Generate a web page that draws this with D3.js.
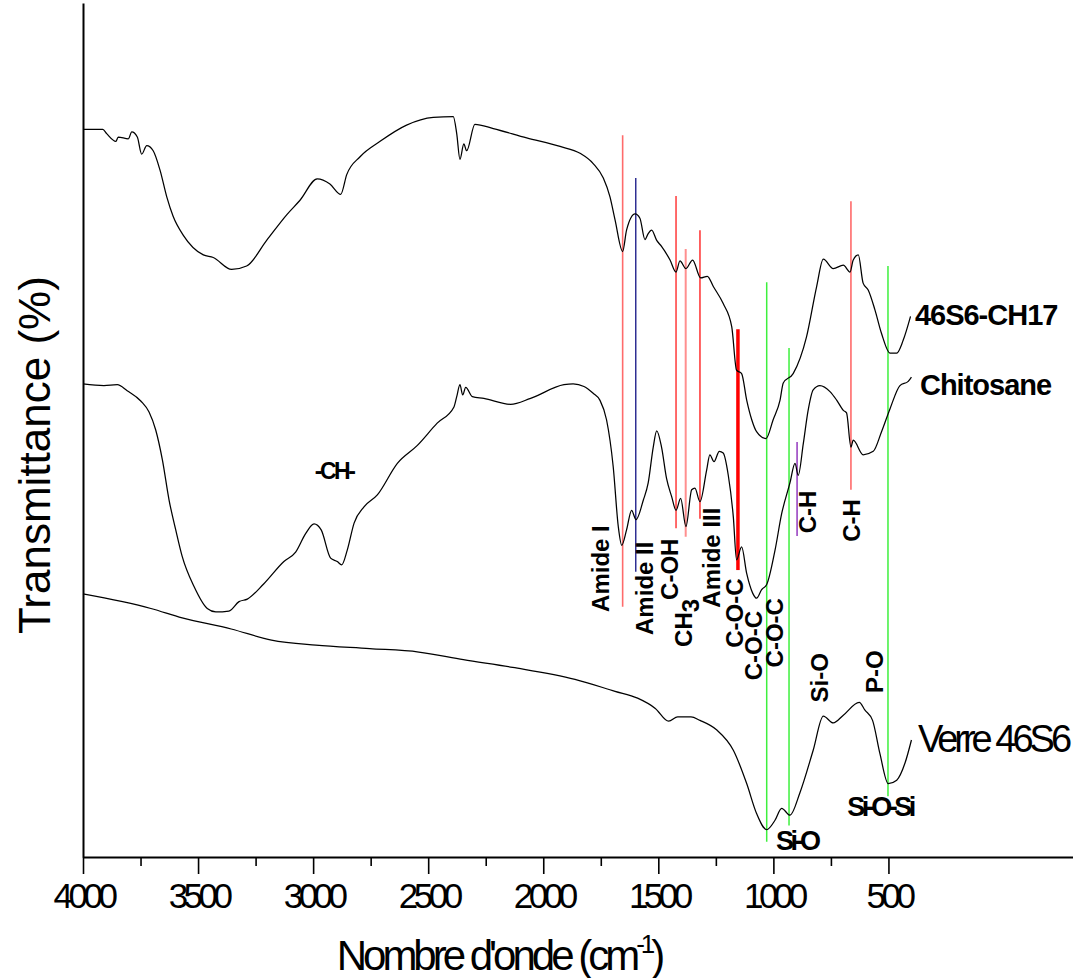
<!DOCTYPE html>
<html>
<head>
<meta charset="utf-8">
<script src="https://cdn.jsdelivr.net/npm/d3@7"></script>
<style>
  html, body { margin: 0; padding: 0; background: #fff; }
  svg { display: block; font-family: 'Liberation Sans', Arial, Helvetica, sans-serif; }
</style>
</head>
<body>
<div class="container"></div>
<script>
// spectra: [wavenumber (cm-1), transmittance (arb. %)]
const ch17 = [
  [4000, 85.2], [3914, 85.2], [3897, 84.7], [3857, 83.8], [3847, 84.3], [3803, 84.1], [3788, 84.9],
  [3764, 84.3], [3745, 82.3], [3723, 83.3], [3695, 82.7], [3665, 80.4], [3636, 77.3], [3608, 75.0],
  [3564, 72.8], [3477, 70.5], [3434, 70.2], [3354, 68.8], [3289, 69.2], [3202, 72.2], [3115, 75.2],
  [3057, 76.9], [2982, 79.4], [2927, 78.8], [2880, 77.6], [2854, 79.9], [2796, 82.0], [2709, 83.8],
  [2594, 85.7], [2478, 86.6], [2391, 86.7], [2376, 84.7], [2362, 81.7], [2345, 83.5], [2333, 82.7],
  [2297, 85.8], [2217, 85.3], [2072, 84.2], [1927, 83.2], [1840, 82.4], [1783, 81.2], [1739, 79.5],
  [1710, 77.3], [1688, 74.6], [1655, 70.9], [1638, 73.4], [1601, 75.3], [1580, 74.8], [1558, 72.3],
  [1544, 73.0], [1529, 73.4], [1507, 72.2], [1486, 71.5], [1449, 69.9], [1423, 68.5], [1406, 69.8],
  [1380, 68.9], [1351, 69.9], [1316, 67.8], [1287, 68.0], [1261, 66.8], [1218, 64.8], [1181, 62.1],
  [1160, 57.0], [1138, 56.6], [1116, 53.5], [1094, 51.2], [1073, 49.8], [1032, 49.0], [1001, 51.2],
  [971, 53.5], [957, 55.5], [914, 56.6], [856, 60.9], [812, 66.8], [783, 70.0], [740, 68.9],
  [696, 69.3], [667, 68.5], [653, 69.9], [631, 70.5], [610, 67.2], [588, 66.4], [559, 64.1],
  [530, 61.3], [493, 59.0], [464, 59.0], [436, 60.5], [404, 63.3]
];

const chitosane = [
  [4000, 55.4], [3909, 55.2], [3851, 55.3], [3808, 54.6], [3749, 53.4], [3713, 52.1], [3684, 50.0],
  [3655, 46.5], [3626, 41.8], [3597, 38.3], [3569, 35.2], [3518, 31.7], [3460, 29.1], [3423, 28.7],
  [3366, 28.8], [3322, 29.9], [3286, 30.2], [3214, 32.0], [3127, 34.6], [3076, 35.7], [3032, 37.9],
  [2996, 39.0], [2965, 38.3], [2924, 35.0], [2895, 34.6], [2876, 34.2], [2852, 35.9], [2822, 39.1],
  [2779, 41.0], [2721, 42.4], [2634, 46.1], [2547, 48.2], [2461, 50.8], [2388, 52.7], [2376, 53.9],
  [2362, 55.3], [2350, 54.1], [2337, 55.0], [2308, 53.9], [2258, 53.7], [2142, 53.0], [2055, 53.7],
  [1910, 55.3], [1870, 55.4], [1823, 55.1], [1783, 54.3], [1754, 53.5], [1725, 51.2], [1696, 45.7],
  [1674, 38.7], [1659, 36.5], [1638, 38.3], [1616, 40.6], [1597, 39.5], [1565, 41.8], [1544, 43.8],
  [1522, 48.0], [1507, 49.9], [1486, 48.0], [1464, 44.3], [1442, 42.2], [1423, 40.6], [1403, 42.0],
  [1380, 38.7], [1355, 43.0], [1341, 43.2], [1319, 41.6], [1290, 45.3], [1276, 47.1], [1258, 46.3],
  [1235, 47.5], [1218, 47.3], [1196, 44.7], [1174, 39.8], [1160, 34.8], [1138, 36.3], [1116, 33.2],
  [1090, 30.9], [1073, 30.3], [1051, 31.3], [1029, 31.9], [993, 35.9], [964, 40.2], [928, 43.8],
  [906, 46.1], [892, 44.7], [870, 48.4], [849, 52.3], [827, 54.7], [798, 55.2], [754, 54.5],
  [725, 53.5], [696, 52.3], [682, 52.0], [663, 48.0], [653, 48.8], [610, 47.1], [566, 47.5],
  [530, 49.8], [493, 52.5], [450, 55.2], [414, 55.7], [400, 56.2]
];

const verre = [
  [4000, 30.8], [3705, 29.1], [3569, 28.0], [3356, 26.7], [3181, 25.4], [2988, 24.8], [2754, 24.4],
  [2541, 24.0], [2347, 23.1], [2133, 22.2], [1862, 20.8], [1688, 19.4], [1590, 18.6], [1513, 17.4],
  [1455, 15.9], [1416, 16.4], [1358, 16.4], [1319, 16.0], [1247, 14.9], [1174, 12.5], [1116, 8.6],
  [1073, 5.1], [1029, 3.2], [993, 4.3], [964, 5.7], [928, 4.9], [885, 7.5], [827, 12.5],
  [783, 16.5], [740, 15.7], [696, 16.6], [627, 18.1], [602, 17.2], [569, 16.0], [537, 12.1],
  [501, 8.6], [464, 9.0], [428, 11.0], [400, 13.7]
];

// band marker lines
const markerWn = [1655, 1598, 1423, 1381, 1319, 1154, 1029, 932, 897, 663, 502];
const markerTop = [84.5, 79.5, 77.4, 71.2, 73.4, 61.8, 67.3, 59.6, 48.6, 76.8, 69.2];
const markerBottom = [29.3, 33.4, 38.5, 37.5, 39.6, 33.6, 1.8, 3.7, 37.6, 43.0, 7.1];

// rotated band labels
const bandLabels = ['Amide I', 'Amide II', 'C-OH', 'CH', 'Amide III', 'C-O-C', 'C-O-C', 'C-O-C', 'C-H', 'C-H', 'Si-O', 'P-O'];
const bandLabelWn = [1749, 1558, 1449, 1389, 1267, 1167, 1084, 993, 850, 659, 798, 559];
const bandLabelT = [28.7, 26.0, 30.1, 24.6, 29.2, 24.5, 20.7, 22.2, 37.9, 36.9, 18.1, 19.2];

// flat labels
const flatLabels = ['-CH-', 'Si-O-Si', 'Si-O'];
const flatLabelWn = [2909, 537, 898];
const flatLabelT = [44.3, 4.8, 0.8];

const seriesNames = ['46S6-CH17', 'Chitosane', 'Verre 46S6'];
const seriesLabelWn = [385, 363, 372];
const seriesLabelT = [62.3, 54.1, 12.3];

const majorTicks = [4000, 3500, 3000, 2500, 2000, 1500, 1000, 500];
const minorTicks = [3750, 3250, 2750, 2250, 1750, 1250, 750];

const width = 1073;
const height = 978;

const markerColor = ['#ff6b6b', '#23238c', '#ff3a3a', '#ff8f8f', '#ff3030', '#ff0000', '#3df03d', '#3df03d', '#9a45c2', '#ff7b7b', '#3df03d'];
const markerWidth = [1.6, 1.4, 1.5, 2, 1.5, 3.5, 1.5, 1.5, 1.6, 1.8, 1.5];

const svg = d3
  .select('.container')
  .append('svg')
  .attr('width', width)
  .attr('height', height);

const xScale = d3.scaleLinear().domain([4000, -302]).range([83, 1073]);
const yScale = d3.scaleLinear().domain([0, 100]).range([857, 3]);

// x axis
const xAxis = d3
  .axisBottom(xScale)
  .tickValues(majorTicks)
  .tickFormat(d3.format('d'))
  .tickSize(17)
  .tickSizeOuter(0)
  .tickPadding(9);

const gx = svg
  .append('g')
  .attr('id', 'x-axis')
  .attr('transform', `translate(0, ${yScale(0)})`)
  .call(xAxis);
gx.select('.domain').attr('stroke-width', 2);
gx.selectAll('.tick line').attr('stroke-width', 1.6);
gx.selectAll('.tick text')
  .attr('font-size', 35)
  .attr('letter-spacing', -4.5)
  .attr('fill', '#000');

svg
  .append('g')
  .attr('transform', `translate(0, ${yScale(0)})`)
  .call(d3.axisBottom(xScale).tickValues(minorTicks).tickSize(9).tickFormat(''))
  .call((g) => g.select('.domain').remove())
  .selectAll('.tick line')
  .attr('stroke-width', 1.6);

// y axis (no ticks)
svg
  .append('g')
  .attr('id', 'y-axis')
  .attr('transform', `translate(${xScale(4000)}, 0)`)
  .call(d3.axisLeft(yScale).tickValues([]).tickSizeOuter(0))
  .select('.domain')
  .attr('stroke-width', 2);

// axis titles
const xTitle = svg
  .append('text')
  .attr('x', 499)
  .attr('y', 970)
  .attr('text-anchor', 'middle')
  .attr('font-size', 42)
  .attr('letter-spacing', -4)
  .text("Nombre d'onde (cm");
xTitle.append('tspan').attr('font-size', 26).attr('dy', -17).text('-1');
xTitle.append('tspan').attr('dy', 17).text(')');

svg
  .append('text')
  .attr('transform', 'translate(50, 455) rotate(-90)')
  .attr('text-anchor', 'middle')
  .attr('font-size', 44)
  .text('Transmittance (%)');

// marker lines
svg
  .append('g')
  .attr('id', 'markers')
  .selectAll('line')
  .data(markerWn)
  .enter()
  .append('line')
  .attr('x1', (d) => xScale(d))
  .attr('x2', (d) => xScale(d))
  .attr('y1', (d, i) => yScale(markerTop[i]))
  .attr('y2', (d, i) => yScale(markerBottom[i]))
  .attr('stroke', (d, i) => markerColor[i])
  .attr('stroke-width', (d, i) => markerWidth[i]);

// spectra
const line = d3
  .line()
  .x((d) => xScale(d[0]))
  .y((d) => yScale(d[1]))
  .curve(d3.curveMonotoneX);

svg
  .append('g')
  .attr('id', 'spectra')
  .selectAll('path')
  .data([ch17, chitosane, verre])
  .enter()
  .append('path')
  .attr('d', line)
  .attr('fill', 'none')
  .attr('stroke', '#000')
  .attr('stroke-width', 1.25);

// rotated band labels
const bands = svg
  .append('g')
  .attr('id', 'band-labels')
  .selectAll('text')
  .data(bandLabels)
  .enter()
  .append('text')
  .attr('transform', (d, i) => `translate(${xScale(bandLabelWn[i])}, ${yScale(bandLabelT[i])}) rotate(-90)`)
  .attr('dy', '0.35em')
  .attr('font-size', 24)
  .attr('font-weight', 'bold')
  .text((d) => d);

// subscript of CH3
bands
  .filter((d) => d === 'CH')
  .append('tspan')
  .attr('dy', '0.3em')
  .text('3');

// flat labels
svg
  .append('g')
  .selectAll('text')
  .data(flatLabels)
  .enter()
  .append('text')
  .attr('x', (d, i) => xScale(flatLabelWn[i]))
  .attr('y', (d, i) => yScale(flatLabelT[i]))
  .attr('text-anchor', 'middle')
  .attr('font-size', (d, i) => (i === 0 ? 23 : 27))
  .attr('font-weight', 'bold')
  .attr('letter-spacing', (d, i) => (i === 0 ? -2.5 : -3.5))
  .text((d) => d);

// series names
svg
  .append('g')
  .selectAll('text')
  .data(seriesNames)
  .enter()
  .append('text')
  .attr('x', (d, i) => xScale(seriesLabelWn[i]))
  .attr('y', (d, i) => yScale(seriesLabelT[i]))
  .attr('font-size', (d, i) => (i === 2 ? 38 : 29))
  .attr('font-weight', (d, i) => (i === 2 ? 'normal' : 'bold'))
  .attr('letter-spacing', (d, i) => (i === 2 ? -4 : -1))
  .text((d) => d);
</script>
</body>
</html>
